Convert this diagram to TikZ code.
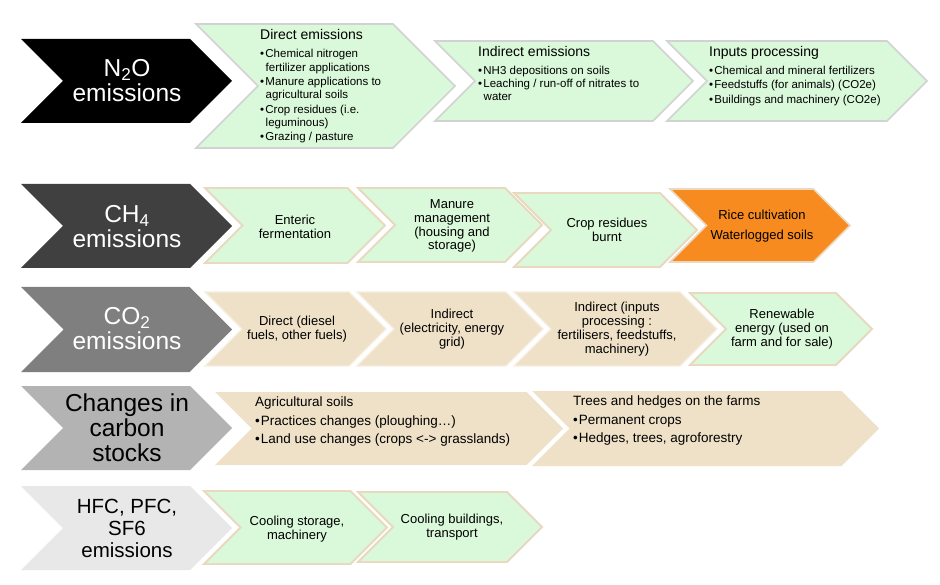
\documentclass[tikz,border=0pt]{standalone}
\usepackage{fontspec}
\setmainfont{Liberation Sans}
\definecolor{mint}{HTML}{DAF8DA}
\definecolor{tanfill}{HTML}{EFE1C7}
\definecolor{orng}{HTML}{F78B1F}
\definecolor{grayborder}{HTML}{D2D2D2}
\definecolor{tanborder}{HTML}{E8D9BF}
\definecolor{paleborder}{HTML}{F6EEE0}
\definecolor{lead1}{HTML}{000000}
\definecolor{lead2}{HTML}{404040}
\definecolor{lead3}{HTML}{7F7F7F}
\definecolor{lead4}{HTML}{B3B3B3}
\definecolor{lead5}{HTML}{E8E8E8}
\newcommand{\chevron}[5]{%
  \pgfmathsetmacro{\chd}{(#5-#3)/2}%
  \pgfmathsetmacro{\chm}{(#3+#5)/2}%
  \path[#1] (#2,#3) -- ({#4-\chd},#3) -- (#4,\chm) -- ({#4-\chd},#5) -- (#2,#5) -- ({#2+\chd},\chm) -- cycle;}
\newcommand{\bl}{\textbullet\hspace{1.2pt}}
\newcommand{\ct}{\hspace*{5.5pt}}
\tikzset{
  leadtext/.style={align=center, inner sep=0, font=\fontsize{24.5}{25}\selectfont},
  boxtext/.style={align=center, inner sep=0, font=\fontsize{13}{13.8}\selectfont},
  listtext/.style={align=left, inner sep=0, anchor=north west, font=\fontsize{11.5}{13.2}\selectfont},
  rowone/.style={fill=mint, draw=grayborder, line width=1.6pt},
  mintbox/.style={fill=mint, draw=tanborder, line width=1.8pt},
  tanbox/.style={fill=tanfill, draw=paleborder, line width=1.2pt},
  tanplain/.style={fill=tanfill},
  orangebox/.style={fill=orng, draw=tanborder, line width=1.6pt}
}
\begin{document}
\begin{tikzpicture}[x=1pt,y=-1pt]
\useasboundingbox[fill=white] (0,0) rectangle (940,585);

% ---------- Row 1: N2O ----------
\chevron{fill=lead1}{21}{39}{232}{123}
\chevron{rowone}{196}{24}{455}{148}
\chevron{rowone}{435}{41}{693}{121}
\chevron{rowone}{667}{41}{927}{121}
\node[leadtext, text=white] (n2o) at (127,81) {N\textsubscript{2}O\\emissions};
\node[listtext] (direct) at (260,29) {{\fontsize{14}{14}\selectfont Direct emissions}\\[5.3pt]
\bl Chemical nitrogen\\
\ct fertilizer applications\\[1.3pt]
\bl Manure applications to\\
\ct agricultural soils\\[1.3pt]
\bl Crop residues (i.e.\\
\ct leguminous)\\[1.3pt]
\bl Grazing / pasture};
\node[listtext] (indirect) at (478,46) {{\fontsize{14}{14}\selectfont Indirect emissions}\\[4.8pt]
\bl NH3 depositions on soils\\
\bl Leaching / run-off of nitrates to\\
\ct water};
\node[listtext] (inputs) at (709,46) {{\fontsize{14}{14}\selectfont Inputs processing}\\[4.8pt]
\bl Chemical and mineral fertilizers\\[1.3pt]
\bl Feedstuffs (for animals) (CO2e)\\[1.3pt]
\bl Buildings and machinery (CO2e)};

% ---------- Row 2: CH4 ----------
\chevron{fill=lead2}{21}{184}{232}{268}
\chevron{mintbox}{205}{188}{385}{263}
\chevron{mintbox}{358}{188}{542}{262}
\chevron{mintbox}{514}{193}{697}{267}
\chevron{orangebox}{670}{189}{850}{262}
\node[leadtext, text=white] (ch4) at (127,227) {CH\textsubscript{4}\\emissions};
\node[boxtext] (enteric) at (295,226.5) {Enteric\\fermentation};
\node[boxtext] (manure) at (452,226) {Manure\\management\\(housing and\\storage)};
\node[boxtext] (cropburnt) at (607,229.5) {Crop residues\\burnt};
\node[boxtext] (rice) at (762,226) {Rice cultivation\\[6.5pt]Waterlogged soils};

% ---------- Row 3: CO2 ----------
\chevron{fill=lead3}{21}{287}{232}{372}
\chevron{tanbox}{205}{292}{386}{366}
\chevron{tanbox}{357}{292}{543}{366}
\chevron{tanbox}{514}{292}{717}{366}
\chevron{mintbox}{690}{293}{872}{365}
\node[leadtext, text=white] (co2) at (127,329) {CO\textsubscript{2}\\emissions};
\node[boxtext] (diesel) at (297,329) {Direct (diesel\\fuels, other fuels)};
\node[boxtext] (electricity) at (452,329) {Indirect\\(electricity, energy\\grid)};
\node[boxtext] (inputsproc) at (617,329) {Indirect (inputs\\processing :\\fertilisers, feedstuffs,\\machinery)};
\node[boxtext] (renewable) at (782,329) {Renewable\\energy (used on\\farm and for sale)};

% ---------- Row 4: carbon stocks ----------
\chevron{fill=lead4}{21}{386}{232}{470}
\chevron{tanplain}{215}{392}{563}{465}
\chevron{tanplain}{532}{391}{879}{466}
\node[leadtext, text=black] (carbon) at (127,428) {Changes in\\carbon\\stocks};
\node[listtext, font=\fontsize{13.5}{17.5}\selectfont] (soils) at (255,397) {Agricultural soils\\[1.5pt]
\textbullet\hspace{1pt}Practices changes (ploughing…)\\
\textbullet\hspace{1pt}Land use changes (crops <-> grasslands)};
\node[listtext, font=\fontsize{13.5}{17.5}\selectfont] (trees) at (573,396) {Trees and hedges on the farms\\[1.5pt]
\textbullet\hspace{1pt}Permanent crops\\
\textbullet\hspace{1pt}Hedges, trees, agroforestry};

% ---------- Row 5: HFC ----------
\chevron{fill=lead5}{21}{486}{232}{570}
\chevron{mintbox}{204}{491}{387}{564}
\chevron{mintbox}{358}{492}{542}{562}
\node[align=center, inner sep=0, font=\fontsize{20.5}{22}\selectfont, text=black] (hfc) at (127,528) {HFC, PFC,\\SF6\\emissions};
\node[boxtext] (coolstore) at (297,529) {Cooling storage,\\machinery};
\node[boxtext] (coolbuild) at (452,527.5) {Cooling buildings,\\transport};
\end{tikzpicture}
\end{document}
